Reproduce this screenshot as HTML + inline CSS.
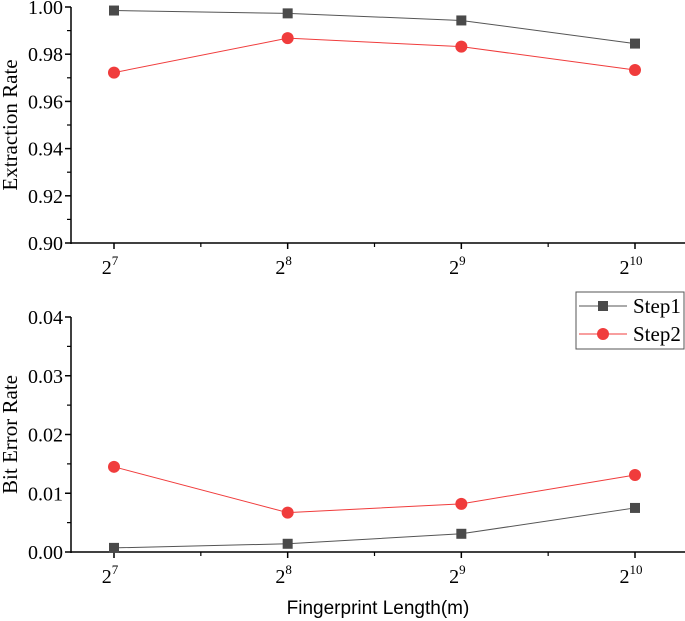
<!DOCTYPE html>
<html><head><meta charset="utf-8"><style>
body{margin:0;background:#fff;}
svg{display:block;font-family:"Liberation Serif",serif;}
</style></head><body>
<svg id="c" width="685" height="621"></svg>
<script>
const categories=["7","8","9","10"];
const topStep1=[0.9985,0.9973,0.9943,0.9845];
const topStep2=[0.9722,0.9868,0.9832,0.9733];
const botStep1=[0.0007,0.0014,0.0031,0.0075];
const botStep2=[0.0145,0.0067,0.0082,0.0131];
const topTicks=["0.90","0.92","0.94","0.96","0.98","1.00"];
const botTicks=["0.00","0.01","0.02","0.03","0.04"];
const NS="http://www.w3.org/2000/svg";
const svg=document.getElementById('c');
function el(t,a,p){const e=document.createElementNS(NS,t);for(const k in a)e.setAttribute(k,a[k]);(p||svg).appendChild(e);return e;}
const xs=[114,288,460,635];
function xPos(i){return xs[0]+(xs[3]-xs[0])*i/(categories.length-1);}
function panel(name,y0,y1,vmin,vmax,ticks,s1,s2,title){
  const g=el('g',{});
  
  
  const yPos=v=>y1-(v-vmin)/(vmax-vmin)*(y1-y0);
  const X0=71;
  el('line',{x1:X0,y1:y0,x2:X0,y2:y1+1,stroke:'#000','stroke-width':1.5},g);
  el('line',{x1:X0,y1:y1,x2:685,y2:y1,stroke:'#000','stroke-width':1.5},g);
  const n=ticks.length;
  for(let i=0;i<n;i++){
    const v=vmin+(vmax-vmin)*i/(n-1),y=yPos(v);
    el('line',{x1:X0-6,y1:y,x2:X0,y2:y,stroke:'#000','stroke-width':1.5},g);
    const t=el('text',{x:X0-8,y:y+7,'text-anchor':'end','font-size':20},g);t.textContent=ticks[i];
    
    if(i<n-1){const ym=yPos(v+(vmax-vmin)/(n-1)/2);el('line',{x1:X0-4,y1:ym,x2:X0,y2:ym,stroke:'#000','stroke-width':1.2},g);}
  }
  for(let i=0;i<categories.length;i++){
    const x=xPos(i);
    el('line',{x1:x,y1:y1,x2:x,y2:y1+6,stroke:'#000','stroke-width':1.5},g);
    if(i<categories.length-1){const xm=(x+xPos(i+1))/2;el('line',{x1:xm,y1:y1,x2:xm,y2:y1+4,stroke:'#000','stroke-width':1.2},g);}
    const t=el('text',{x:x-4,y:y1+31,'text-anchor':'middle','font-size':20},g);
    
    t.textContent='2';
    const s=el('tspan',{dy:-9,'font-size':13},t);s.textContent=categories[i];
  }
  const yt=el('text',{transform:`translate(17,${(y0+y1)/2}) rotate(-90)`,'text-anchor':'middle','font-size':21},g);
  yt.textContent=title;
  const draw=(arr,col,marker,nm)=>{
    const pts=arr.map((v,i)=>xPos(i)+','+yPos(v)).join(' ');
    const l=el('polyline',{points:pts,fill:'none',stroke:col,'stroke-width':1},g);
    
    arr.forEach((v,i)=>{
      let m;
      if(marker==='sq')m=el('rect',{x:xPos(i)-5,y:yPos(v)-5,width:10,height:10,fill:'#4a4a4a'},g);
      else m=el('circle',{cx:xPos(i),cy:yPos(v),r:6,fill:'#f03c3c'},g);
      
    });
  };
  draw(s1,'#555','sq','step1');
  draw(s2,'#f03c3c','ci','step2');
}
panel('top-panel',7,243,0.90,1.00,topTicks,topStep1,topStep2,'Extraction Rate');
panel('bottom-panel',317,552,0.00,0.04,botTicks,botStep1,botStep2,'Bit Error Rate');
const lg=el('g',{});

el('rect',{x:576,y:292,width:108,height:57,fill:'#fff',stroke:'#555','stroke-width':1},lg);
el('line',{x1:579,y1:306,x2:627,y2:306,stroke:'#555'},lg);
el('rect',{x:598,y:301,width:10,height:10,fill:'#4a4a4a'},lg);
const t1=el('text',{x:633,y:313,'font-size':21},lg);t1.textContent='Step1';
el('line',{x1:579,y1:334,x2:627,y2:334,stroke:'#f03c3c'},lg);
el('circle',{cx:603,cy:334,r:6,fill:'#f03c3c'},lg);
const t2=el('text',{x:633,y:341,'font-size':21},lg);t2.textContent='Step2';
const xt=el('text',{x:378,y:614,'text-anchor':'middle','font-size':19,'font-family':'Liberation Sans, sans-serif'});
xt.textContent='Fingerprint Length(m)';


</script>
</body></html>
